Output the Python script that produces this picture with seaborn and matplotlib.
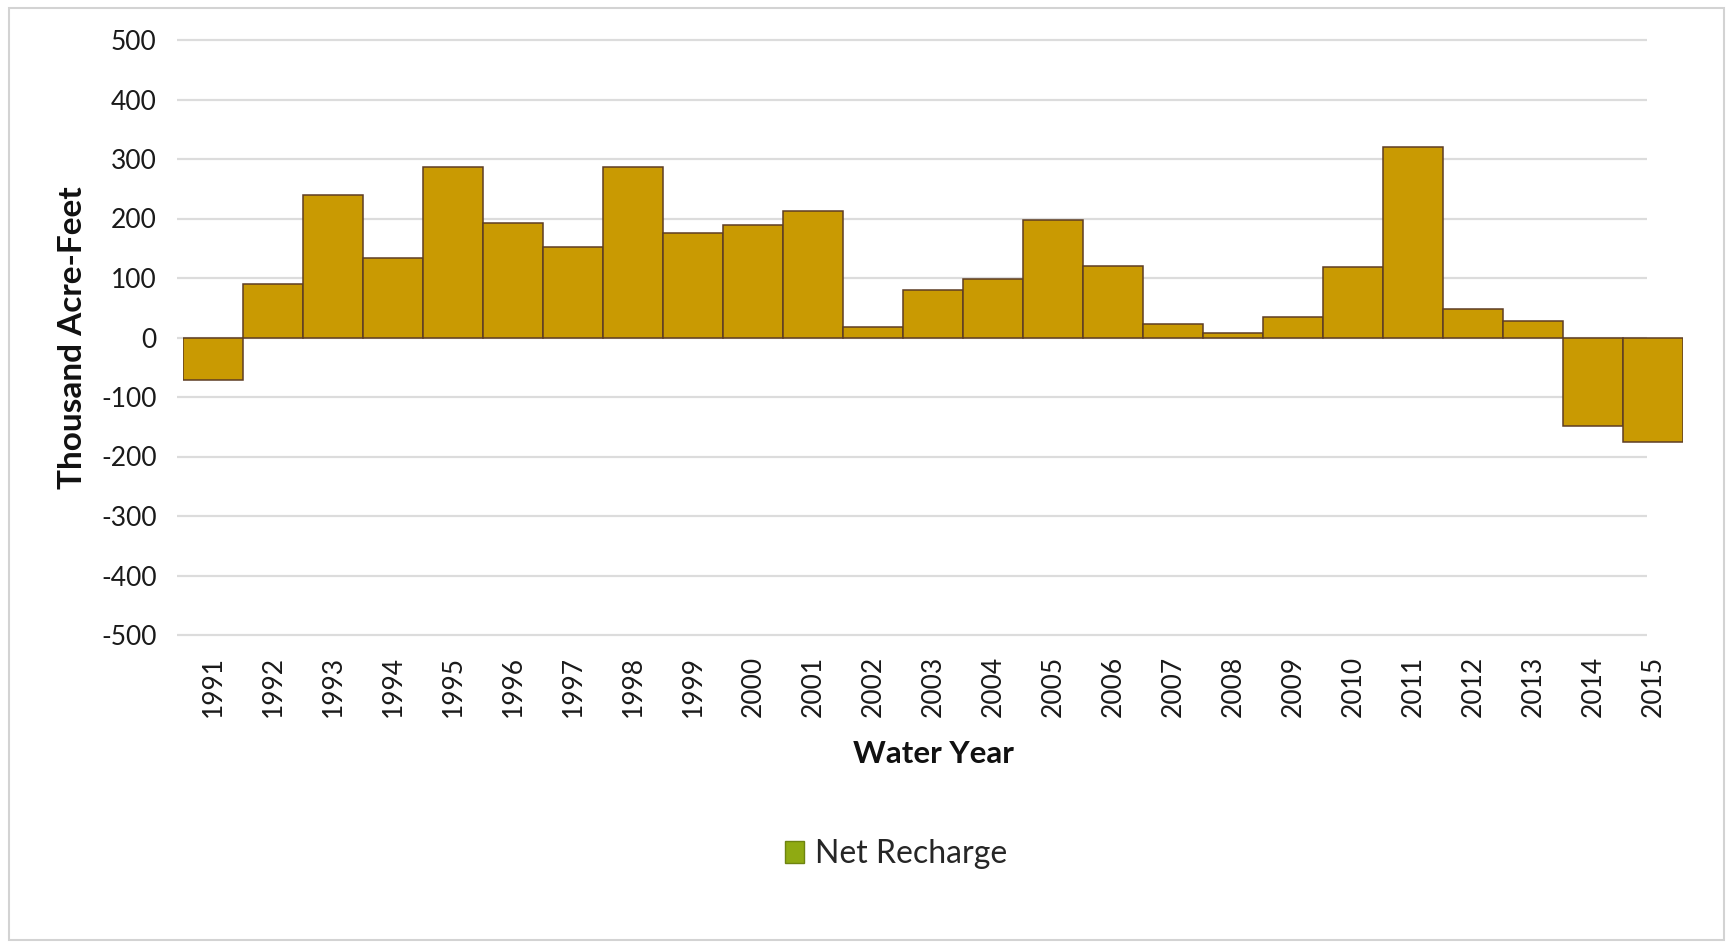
import matplotlib
matplotlib.use("Agg")
import matplotlib.pyplot as plt
from matplotlib.patches import Patch, Rectangle
import seaborn as sns
import pandas as pd

# Net recharge per water year (thousand acre-feet)
years = [str(y) for y in range(1991, 2016)]
net_recharge = [-71, 90, 239, 133, 286, 193, 152, 287, 176, 189, 213, 18,
                80, 99, 198, 120, 23, 7, 34, 118, 320, 48, 28, -148, -175]
y_ticks = [500, 400, 300, 200, 100, 0, -100, -200, -300, -400, -500]

series_name = "Net Recharge"
bar_color = "#C99A02"
bar_edge = "#5E3D24"
legend_color = "#8FAA12"
grid_color = "#DCDCDC"

df = pd.DataFrame({"Water Year": years, "Value": net_recharge})

sns.set_theme(style="white")
plt.rcParams["font.family"] = ["Lato", "DejaVu Sans"]

W, H = 1732, 942
fig = plt.figure(figsize=(W / 100, H / 100), dpi=100)
fig.patch.set_facecolor("white")

left, right, top, bottom = 183, 1683, 40, 635
ax = fig.add_axes([left / W, 1 - bottom / H, (right - left) / W, (bottom - top) / H])

sns.barplot(data=df, x="Water Year", y="Value", color=bar_color, saturation=1,
            width=1.0, edgecolor=bar_edge, linewidth=1.1, ax=ax, zorder=3)

ax.set_xlim(-0.5, len(years) - 0.5)
ax.set_ylim(-500, 500)
ax.set_yticks(y_ticks)
ax.set_yticklabels([str(t) for t in y_ticks])

# horizontal gridlines
gx0 = (177 - left) / (right - left)
gx1 = (1647 - left) / (right - left)
ax.hlines(y_ticks, gx0, gx1, transform=ax.get_yaxis_transform(),
          colors=grid_color, linewidth=1.6, zorder=1, clip_on=False)

for s in ax.spines.values():
    s.set_visible(False)

ax.tick_params(axis="y", length=0, pad=19, labelsize=19, labelcolor="#1a1a1a")
ax.tick_params(axis="x", length=0, pad=15, labelsize=19, labelcolor="#1a1a1a",
               labelrotation=90)

ax.set_xlabel("Water Year", fontsize=22.5, fontweight="bold", color="#111111")
ax.xaxis.set_label_coords(0.5, -(754 - bottom) / (bottom - top))
ax.set_ylabel("Thousand Acre-Feet", fontsize=24, fontweight="bold", color="#111111")
ax.yaxis.set_label_coords((73 - left) / (right - left), 0.5)
ax.xaxis.label.set_va("center")
ax.yaxis.label.set_va("center")

handle = Patch(facecolor=legend_color, edgecolor="#6E8410", linewidth=1)
fig.legend([handle], [series_name], loc="center",
           bbox_to_anchor=(896 / W, 1 - 854 / H), frameon=False,
           fontsize=23, handlelength=0.6, handleheight=0.7, handletextpad=0.35)

# outer chart frame
fig.add_artist(Rectangle((9 / W, 2 / H), (1724 - 9) / W, (934 - 2) / H,
                         transform=fig.transFigure, fill=False,
                         edgecolor="#D3D3D3", linewidth=1.5))

fig.savefig("out.png", dpi=100)
